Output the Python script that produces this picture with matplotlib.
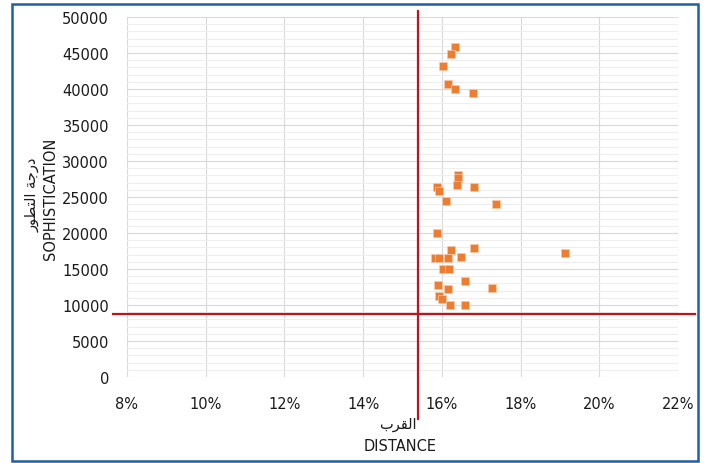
import matplotlib
matplotlib.use("Agg")
import matplotlib.pyplot as plt
from matplotlib.ticker import MultipleLocator, PercentFormatter
from matplotlib.patches import Rectangle

# ---------------- data ----------------
distance = [0.1633, 0.1623, 0.1604, 0.1616, 0.1633, 0.1679,
            0.1640, 0.1640, 0.1639, 0.1588, 0.1594, 0.1682,
            0.1611, 0.1738, 0.1587, 0.1622, 0.1682, 0.1582,
            0.1594, 0.1615, 0.1649, 0.1604, 0.1617, 0.1913,
            0.1728, 0.1591, 0.1616, 0.1660, 0.1594, 0.1600,
            0.1620, 0.1659]
sophistication = [45900, 44900, 43200, 40700, 40000, 39500,
                  28100, 27700, 26700, 26400, 25800, 26400,
                  24400, 24000, 20000, 17700, 17900, 16500,
                  16500, 16500, 16600, 15000, 15000, 17200,
                  12300, 12800, 12200, 13300, 11300, 10800,
                  10000, 10000]

# threshold (quadrant) lines
dist_cut = 0.1539
soph_cut = 8800

# Arabic labels, pre-shaped (presentation forms, visual order)
ar_sophistication = "\uFEAD\uFEEE\uFEC4\uFE98\uFEDF\uFE8D \uFE94\uFE9F\uFEAD\uFEA9"  # درجة التطور
ar_distance = "\uFE8F\uFEAE\uFED8\uFEDF\uFE8D"  # القرب

orange = '#ED7D31'
red = '#C0141C'

fig = plt.figure(figsize=(7.05, 4.64), dpi=100)
ax = fig.add_axes([127/705, 1-378/464, (678-127)/705, (378-18)/464])

ax.scatter(distance, sophistication, marker='s', s=26, color=orange,
           edgecolors='#F8C9A8', linewidths=0.5, zorder=3)

ax.set_xlim(0.08, 0.22)
ax.set_ylim(0, 50000)
ax.xaxis.set_major_locator(MultipleLocator(0.02))
ax.xaxis.set_major_formatter(PercentFormatter(1.0, decimals=0))
ax.yaxis.set_major_locator(MultipleLocator(5000))
ax.yaxis.set_minor_locator(MultipleLocator(1000))

ax.grid(True, which='major', color='#D9D9D9', lw=0.8)
ax.grid(True, which='minor', axis='y', color='#EEEEEE', lw=0.8)
ax.set_axisbelow(True)
for s in ax.spines.values():
    s.set_visible(False)
ax.tick_params(which='both', length=0, labelsize=10.5, colors='#1a1a1a')
ax.tick_params(axis='y', pad=13)
ax.tick_params(axis='x', pad=14)

# quadrant lines, running past the plot area like the drawn shapes
ax.plot([dist_cut, dist_cut], [-5900, 50800], color=red, lw=1.6,
        clip_on=False, zorder=4)
ax.plot([0.0764, 0.2243], [soph_cut, soph_cut], color=red, lw=1.6,
        clip_on=False, zorder=4)

fig.text(32/705, 1-195/464, ar_sophistication, rotation=90, ha='center',
         va='center', fontsize=10.5, family='DejaVu Sans', color='#1a1a1a')
fig.text(50/705, 1-199/464, 'SOPHISTICATION', rotation=90, ha='center',
         va='center', fontsize=10.5, color='#1a1a1a')
fig.text(398/705, 1-424/464, ar_distance, ha='center', va='center',
         fontsize=10.5, family='DejaVu Sans', color='#1a1a1a')
fig.text(400/705, 1-447/464, 'DISTANCE', ha='center', va='center',
         fontsize=10.5, color='#1a1a1a')

# blue frame round the chart
fig.patches.append(Rectangle((12/705, 1-462/464), (698-12)/705, (462-5)/464,
                             transform=fig.transFigure, fill=False,
                             edgecolor='#1F5FA6', lw=1.8))

fig.savefig('out.png', dpi=100)
